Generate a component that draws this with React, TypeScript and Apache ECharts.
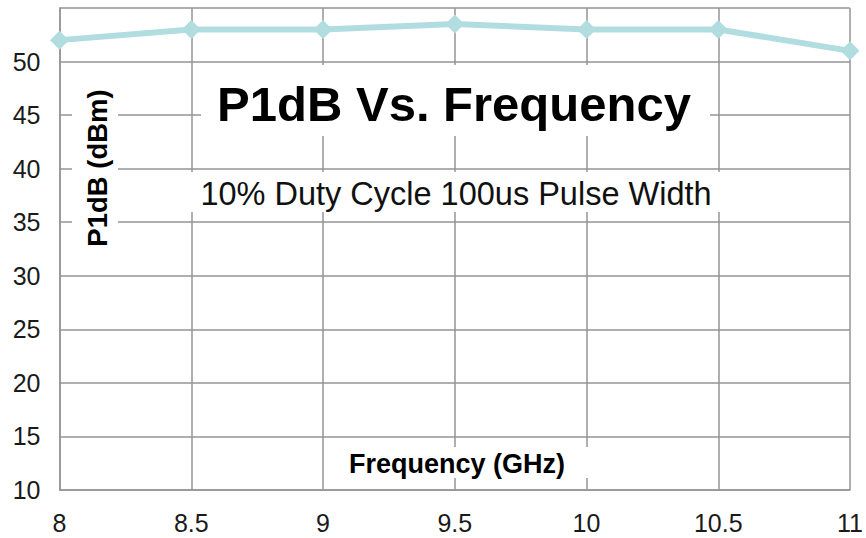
import React, { useEffect, useRef } from "react";
import * as echarts from "echarts";

const frequencies = [8, 8.5, 9, 9.5, 10, 10.5, 11];
const p1dbValues = [52.0, 53.0, 53.0, 53.5, 53.0, 53.0, 51.0];
const titleText = "P1dB Vs. Frequency";
const subtitleText = "10% Duty Cycle 100us Pulse Width";
const yName = "P1dB (dBm)";
const xName = "Frequency (GHz)";

const FONT = '"Liberation Sans", Arial, sans-serif';
const GRID = "#959595";
const LINE = "#B2DDE0";

export default function App() {
  const ref = useRef<HTMLDivElement>(null);
  useEffect(() => {
    if (!ref.current) return;
    const chart = echarts.init(ref.current, null, { renderer: "svg" });
    chart.setOption({
      animation: false,
      backgroundColor: "#ffffff",
      grid: { left: 59.5, right: 13, top: 8, bottom: 48, containLabel: false },
      xAxis: {
        type: "value",
        min: 8,
        max: 11,
        interval: 0.5,
        axisLine: { show: true, lineStyle: { color: GRID, width: 1.5 } },
        axisTick: { show: false },
        splitLine: { show: true, lineStyle: { color: GRID, width: 1.5 } },
        axisLabel: {
          color: "#1a1a1a",
          fontSize: 25,
          fontFamily: FONT,
          margin: 20,
          showMinLabel: true,
          showMaxLabel: true,
        },
      },
      yAxis: {
        type: "value",
        min: 10,
        max: 55,
        interval: 5,
        axisLine: { show: true, lineStyle: { color: GRID, width: 1.5 } },
        axisTick: { show: false },
        splitLine: { show: true, lineStyle: { color: GRID, width: 1.5 } },
        axisLabel: {
          color: "#1a1a1a",
          fontSize: 25,
          fontFamily: FONT,
          margin: 19,
          showMaxLabel: false,
        },
      },
      series: [
        {
          type: "line",
          data: frequencies.map((f, i) => [f, p1dbValues[i]]),
          symbol: "diamond",
          symbolSize: 19,
          lineStyle: { color: LINE, width: 6 },
          itemStyle: { color: LINE },
          clip: false,
          z: 5,
        },
      ],
      graphic: [
        {
          type: "rect",
          shape: { x: 201, y: 65, width: 509, height: 71 },
          style: { fill: "#fff" },
          z: 10,
        },
        {
          type: "text",
          x: 454,
          y: 104,
          style: {
            text: titleText,
            font: `bold 49px ${FONT}`,
            fill: "#000",
            align: "center",
            verticalAlign: "middle",
          },
          z: 11,
        },
        {
          type: "rect",
          shape: { x: 186, y: 172, width: 540, height: 40 },
          style: { fill: "#fff" },
          z: 10,
        },
        {
          type: "text",
          x: 456,
          y: 194,
          style: {
            text: subtitleText,
            font: `32.5px ${FONT}`,
            fill: "#111",
            align: "center",
            verticalAlign: "middle",
          },
          z: 11,
        },
        {
          type: "rect",
          shape: { x: 72, y: 80, width: 46, height: 175 },
          style: { fill: "#fff" },
          z: 10,
        },
        {
          type: "text",
          x: 97,
          y: 168,
          rotation: Math.PI / 2,
          style: {
            text: yName,
            font: `bold 27.5px ${FONT}`,
            fill: "#000",
            align: "center",
            verticalAlign: "middle",
          },
          z: 11,
        },
        {
          type: "rect",
          shape: { x: 332, y: 447, width: 262, height: 31 },
          style: { fill: "#fff" },
          z: 10,
        },
        {
          type: "text",
          x: 457,
          y: 464,
          style: {
            text: xName,
            font: `bold 27px ${FONT}`,
            fill: "#000",
            align: "center",
            verticalAlign: "middle",
          },
          z: 11,
        },
      ],
    });
    return () => chart.dispose();
  }, []);
  return <div ref={ref} style={{ width: 866, height: 538, position: "fixed", left: 0, top: 0 }} />;
}
